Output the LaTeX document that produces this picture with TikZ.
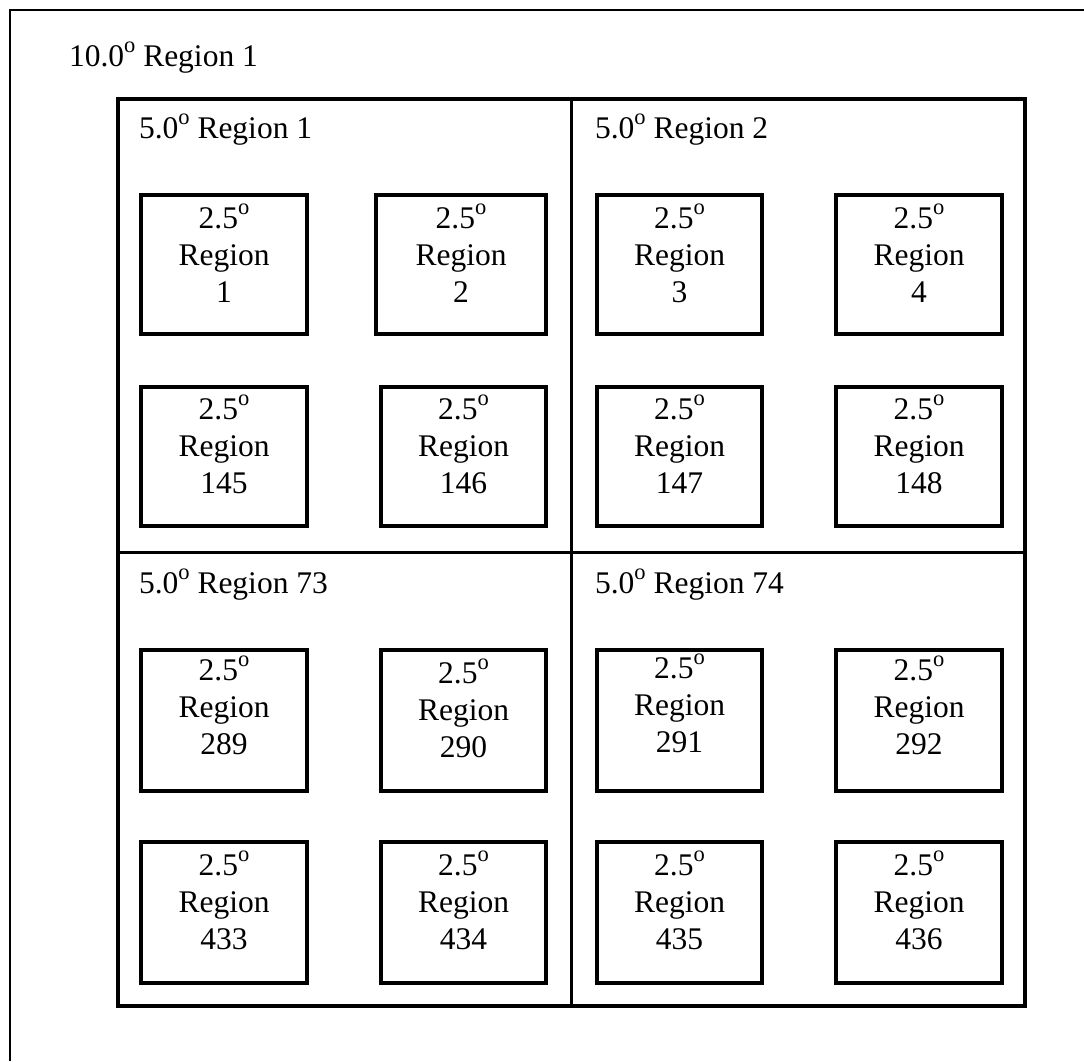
\documentclass[tikz,border=0pt]{standalone}
\usepackage{fontspec}
\setmainfont{Liberation Serif}
\newcommand\degsup{{\fontsize{22.5}{22.5}\selectfont\raisebox{13.5pt}{o}}}
\tikzset{
  regbox/.style={draw, line width=3.4pt, inner sep=0pt, outer sep=0pt},
  bigbox/.style={draw, line width=3.8pt, inner sep=0pt, outer sep=0pt},
  divline/.style={line width=3pt},
  frameline/.style={line width=2pt},
  lbl/.style={font=\fontsize{31.5}{37}\selectfont, inner sep=0pt, outer sep=0pt, anchor=base},
  ttl/.style={font=\fontsize{31.5}{37}\selectfont, inner sep=0pt, outer sep=0pt, anchor=base west}
}
\newcommand\smallreg[7]{%
  \node[regbox, minimum width={#4pt-#2pt}, minimum height={#5pt-#3pt}] (#1) at ({(#2+#4)/2},{(#3+#5)/2}) {};
  \node[lbl] (#1a) at ({(#2+#4)/2},{#7}) {2.5\degsup};
  \node[lbl] (#1b) at ({(#2+#4)/2},{#7+37}) {Region};
  \node[lbl] (#1c) at ({(#2+#4)/2},{#7+74}) {#6};
}
\begin{document}
\begin{tikzpicture}[x=1pt, y=-1pt]
\useasboundingbox (0,0) rectangle (1084,1061);
% outer frame (only top and left edges visible)
\coordinate (ftl) at (10,10);
\coordinate (fbl) at (10,1061);
\coordinate (ftr) at (1084,10);
\draw[frameline] (fbl) -- (ftl) -- (ftr);
\node[ttl] (t10) at (69,66) {10.0\degsup{} Region 1};
% big square
\node[bigbox, minimum width=907pt, minimum height=907pt] (big) at (571.5,552.5) {};
\draw[divline] (big.north) -- (big.south);
\draw[divline] (big.west) -- (big.east);
\node[ttl] (q1) at (139,138) {5.0\degsup{} Region 1};
\node[ttl] (q2) at (595,138) {5.0\degsup{} Region 2};
\node[ttl] (q73) at (139,593) {5.0\degsup{} Region 73};
\node[ttl] (q74) at (595,593) {5.0\degsup{} Region 74};
% small regions
\smallreg{r1}{141}{195}{307}{334}{1}{228}
\smallreg{r2}{376}{195}{546}{334}{2}{228}
\smallreg{r3}{597}{195}{762}{334}{3}{228}
\smallreg{r4}{836}{195}{1002}{334}{4}{228}
\smallreg{r145}{141}{387}{307}{526}{145}{419}
\smallreg{r146}{381}{387}{546}{526}{146}{419}
\smallreg{r147}{597}{387}{762}{526}{147}{419}
\smallreg{r148}{836}{387}{1002}{526}{148}{419}
\smallreg{r289}{141}{650}{307}{791}{289}{680}
\smallreg{r290}{381}{650}{546}{791}{290}{683}
\smallreg{r291}{597}{650}{762}{791}{291}{678}
\smallreg{r292}{836}{650}{1002}{791}{292}{680}
\smallreg{r433}{141}{842}{307}{983}{433}{875}
\smallreg{r434}{381}{842}{546}{983}{434}{875}
\smallreg{r435}{597}{842}{762}{983}{435}{875}
\smallreg{r436}{836}{842}{1002}{983}{436}{875}
\end{tikzpicture}
\end{document}
